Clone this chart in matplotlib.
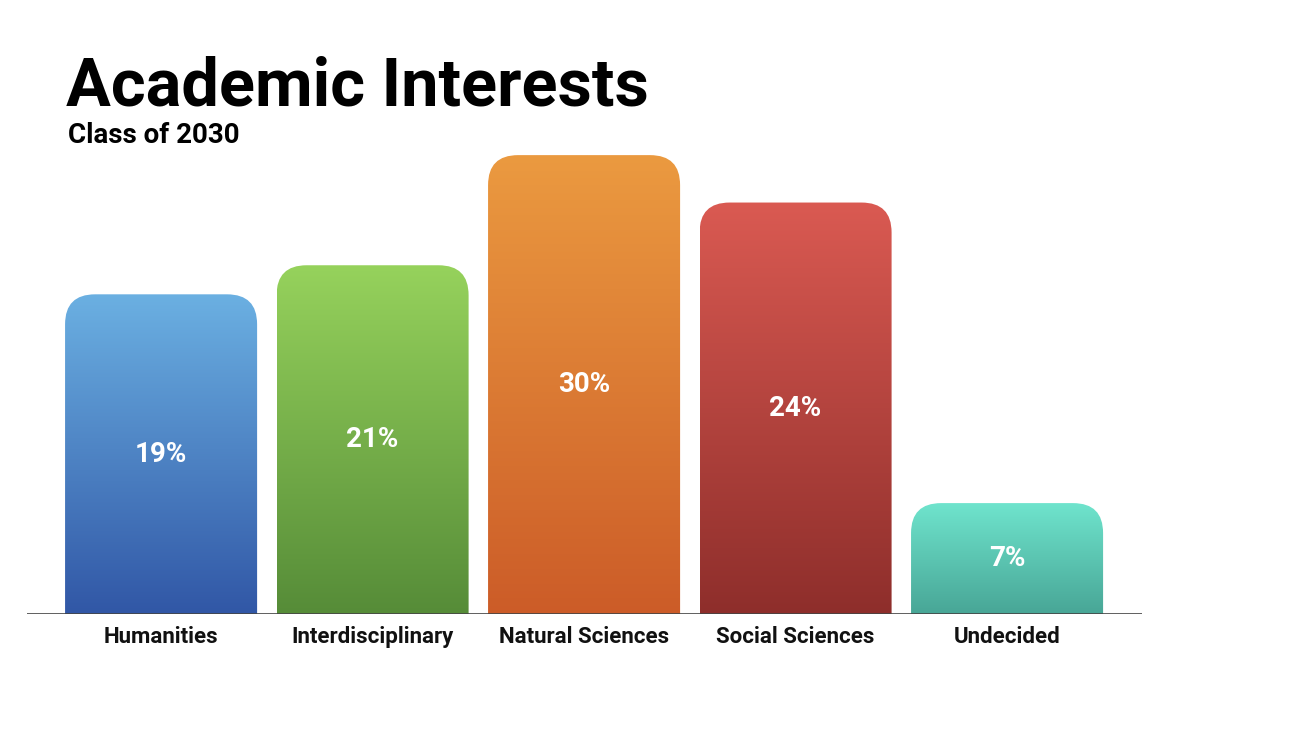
import matplotlib
matplotlib.use("Agg")
import matplotlib.pyplot as plt
import numpy as np
from matplotlib.patches import FancyBboxPatch
from matplotlib.colors import LinearSegmentedColormap

categories = ["Humanities", "Interdisciplinary", "Natural Sciences", "Social Sciences", "Undecided"]
bar_heights = [20.9, 22.8, 30.0, 26.9, 7.25]   # bar heights as drawn in the picture
value_labels = ["19%", "21%", "30%", "24%", "7%"]
top_colors = ["#6bb0e2", "#96d25c", "#eb9a40", "#da5a52", "#6fe4cd"]
bottom_colors = ["#3157a6", "#568c38", "#cc5c28", "#8e2e2b", "#48a696"]

font = ["Liberation Sans Narrow", "Roboto", "DejaVu Sans"]

fig = plt.figure(figsize=(13, 7.31), dpi=100)
W, H = 1300, 731
ax = fig.add_axes([27 / W, 1 - 614 / H, (1142 - 27) / W, (614 - 149) / H])
ax.set_xlim(-0.634, 4.638)
ax.set_ylim(0, 30.4)
ax.axis("off")

width = 0.908
rx = 0.142
aspect = 13.8
for i, h in enumerate(bar_heights):
    x0 = i - width / 2
    patch = FancyBboxPatch((x0, -3), width, h + 3,
                           boxstyle=f"round,pad=0,rounding_size={rx}",
                           mutation_aspect=aspect, fc="none", ec="none")
    ax.add_patch(patch)
    cmap = LinearSegmentedColormap.from_list("g", [bottom_colors[i], top_colors[i]])
    grad = np.linspace(0, 1, 256).reshape(-1, 1)
    im = ax.imshow(grad, extent=(x0, x0 + width, 0, h), origin="lower",
                   cmap=cmap, aspect="auto", interpolation="bilinear")
    im.set_clip_path(patch)
    ax.text(i, h / 2, value_labels[i], ha="center", va="center", color="white",
            fontsize=20, fontweight="bold", family=font)
    ax.text(i, -1.5, categories[i], ha="center", va="center", color="#111111",
            fontsize=16, fontweight="bold", family=font)

ax.axhline(0, color="#444444", lw=1.2)

fig.text(66 / W, 1 - 106 / H, "Academic Interests", fontsize=48, fontweight="bold",
         family=font, va="baseline", color="black")
fig.text(68 / W, 1 - 143 / H, "Class of 2030", fontsize=20, fontweight="bold",
         family=font, va="baseline", color="black")

fig.savefig("out.png", dpi=100)
